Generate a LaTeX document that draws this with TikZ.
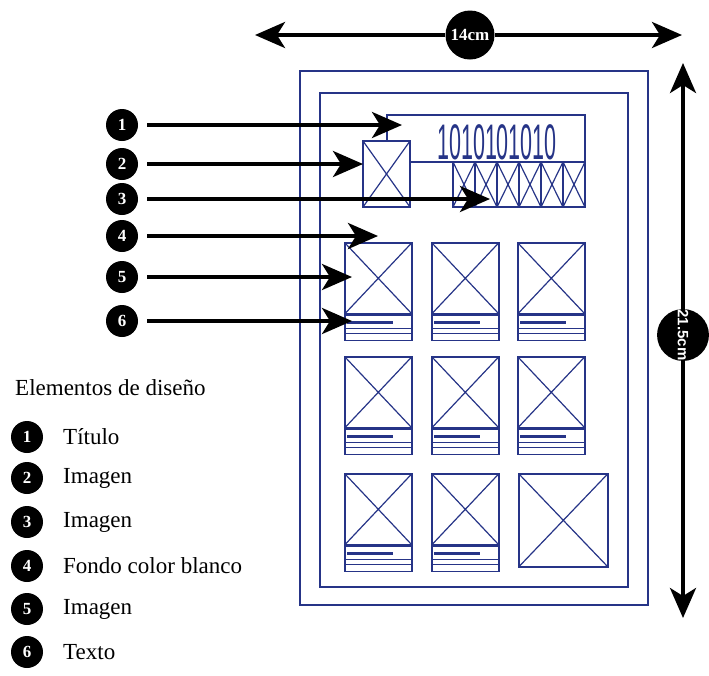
\documentclass[tikz,border=0pt]{standalone}
\usepackage{fontspec}
\setmainfont{Liberation Serif}
\setsansfont{Liberation Sans}
\usetikzlibrary{arrows.meta}

\definecolor{pen}{RGB}{38,52,135}

\tikzset{
  sketch/.style={draw=pen, line width=1.6pt, inner sep=0pt},
  crossbox/.style={sketch, path picture={
      \draw[pen, line width=1.2pt] (path picture bounding box.north west) -- (path picture bounding box.south east)
        (path picture bounding box.north east) -- (path picture bounding box.south west);}},
  bignum/.style={circle, fill=black, text=white, inner sep=0pt, minimum size=32pt,
      font=\bfseries\fontsize{17}{17}\selectfont},
  pointer/.style={line width=3.8pt, -{Stealth[length=30pt,width=26pt,inset=8pt]}},
  legend/.style={anchor=west, inner sep=0pt, font=\fontsize{23}{23}\selectfont},
}

\begin{document}
\begin{tikzpicture}[x=1pt,y=-1pt]
        \useasboundingbox (0,0) rectangle (709,675);
        % Sheet
        \draw[sketch, line width=1.2pt] (300,71) rectangle (648,605);
        \draw[sketch, line width=1.2pt] (320,93) rectangle (628,587);
        % Header
        \node[crossbox, minimum width=47pt, minimum height=66pt] (img0) at (386.5,174) {};
        \draw[sketch] (387,141) -- (387,115) -- (585,115) -- (585,207);
        \draw[sketch] (img0.east |- 0,162) -- (585,162);
        \node[text=pen, font=\sffamily\fontsize{50}{50}\selectfont] (title) at (497,142) {\scalebox{0.43}[1]{1010101010}};
        \foreach \i in {0,...,5}
            \node[crossbox, minimum width=22pt, minimum height=45pt] (th\i) at (464+22*\i,184.5) {};
        % Cards
        \foreach \r/\y/\cols in {1/242/{1,2,3}, 2/356/{1,2,3}, 3/473/{1,2}}{
            \foreach \c in \cols{
                \pgfmathsetmacro{\x}{{0,344,431,517}[\c]}
                \node[crossbox, anchor=north west, minimum width=67pt, minimum height=71pt] (img\r\c) at (\x,\y) {};
                \node[sketch, anchor=north, minimum width=67pt, minimum height=25pt] (txt\r\c) at (img\r\c.south) {};
                \draw[pen, line width=2.4pt] ([xshift=3pt,yshift=-8pt]txt\r\c.north west) -- +(46,0);
                \draw[pen, line width=1.5pt] ([yshift=-14pt]txt\r\c.north west) -- ([yshift=-14pt]txt\r\c.north east);
                \draw[pen, line width=1.5pt] ([yshift=-19pt]txt\r\c.north west) -- ([yshift=-19pt]txt\r\c.north east);
            }
        }
        \node[crossbox, anchor=north west, minimum width=89pt, minimum height=93pt] (img33) at (518,473) {};
        % Width
        \coordinate (wl) at (255,35);
        \coordinate (wr) at (682,35);
        \node[bignum, minimum size=49pt] (wide) at (470,35) {14cm};
        \draw[pointer] (wide) -- (wl);
        \draw[pointer] (wide) -- (wr);
        % Height
        \coordinate (ht) at (683,63);
        \coordinate (hb) at (683,618);
        \node[bignum, minimum size=50pt, rotate=-90, font=\sffamily\bfseries\fontsize{15}{15}\selectfont] (high) at (683,335) {21.5cm};
        \draw[pointer] (high) -- (ht);
        \draw[pointer] (high) -- (hb);
        % Pointers
        \foreach \n/\y/\tx in {1/125/402, 2/164/363, 3/199/490, 4/236/378, 5/277/352, 6/321/352}{
            \node[bignum] (p\n) at (122,\y) {\n};
            \coordinate (t\n) at (\tx,\y);
            \draw[pointer, shorten <=9pt] (p\n.east) -- (t\n);
        }
        % Legend
        \node[legend] (head) at (15,388) {Elementos de diseño};
        \foreach \n/\y/\lbl in {1/437/Título, 2/478/Imagen, 3/522/Imagen, 4/566/Fondo color blanco, 5/609/Imagen, 6/652/Texto}{
            \node[bignum] (l\n) at (27,\y) {\n};
            \node[legend] (lt\n) at (63,\y) {\lbl};
        }
\end{tikzpicture}
\end{document}
